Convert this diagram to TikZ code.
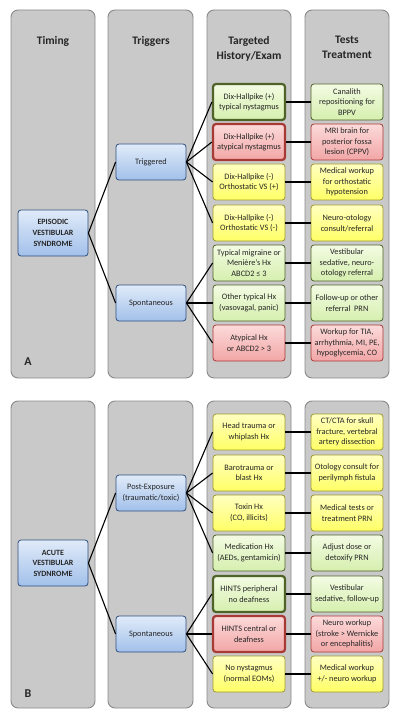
\documentclass[tikz,border=0pt]{standalone}
\usepackage{fontspec}
\setmainfont{Carlito}

\definecolor{panelfill}{HTML}{C9C9C9}
\definecolor{panelline}{HTML}{8A8A8A}
\definecolor{txt}{HTML}{262626}
\definecolor{greentop}{HTML}{F3FBE3}
\definecolor{greenbot}{HTML}{D6EFAE}
\definecolor{greenline}{HTML}{4F6228}
\definecolor{redtop}{HTML}{FCDADA}
\definecolor{redbot}{HTML}{F2A6A6}
\definecolor{redline}{HTML}{A83A36}
\definecolor{yellowtop}{HTML}{FFFFC0}
\definecolor{yellowbot}{HTML}{FFFF66}
\definecolor{yellowline}{HTML}{A09A30}
\definecolor{bluetop}{HTML}{E0EBF9}
\definecolor{bluebot}{HTML}{A2C0EA}
\definecolor{blueline}{HTML}{2F4F7F}

\tikzset{
  panel/.style={draw=panelline, fill=panelfill, line width=0.9pt, rounded corners=7pt},
  header/.style={font=\bfseries\fontsize{11.5}{15}\selectfont, align=center, anchor=north, inner sep=0pt, text=txt},
  card/.style={rounded corners=3pt, minimum width=72pt, minimum height=36pt, inner sep=1pt,
    align=center, text=txt, font=\fontsize{8.3}{10.6}\selectfont, line width=0.8pt},
  greencard/.style={card, draw=greenline, top color=greentop, bottom color=greenbot},
  redcard/.style={card, draw=redline, top color=redtop, bottom color=redbot},
  yellowcard/.style={card, draw=yellowline, top color=yellowtop, bottom color=yellowbot},
  strong/.style={line width=2.2pt},
  trigcard/.style={card, draw=blueline, top color=bluetop, bottom color=bluebot, minimum width=70pt},
  timecard/.style={trigcard, minimum height=46pt, font=\bfseries\fontsize{8}{10.6}\selectfont},
  link/.style={line width=1.1pt, black},
  panelmark/.style={font=\bfseries\fontsize{12}{14}\selectfont, text=txt}
}

\begin{document}
\begin{tikzpicture}[x=1pt, y=-1pt]
  \useasboundingbox (0,0) rectangle (400,719);

  % Серые колонки, часть A
  \draw[panel] (11,10) rectangle (95,378);
  \draw[panel] (108,10) rectangle (193,378);
  \draw[panel] (207,10) rectangle (291,378);
  \draw[panel] (305,10) rectangle (389,378);

  % Серые колонки, часть B
  \draw[panel] (11,401) rectangle (95,708);
  \draw[panel] (108,401) rectangle (193,708);
  \draw[panel] (207,401) rectangle (291,708);
  \draw[panel] (305,401) rectangle (389,708);

  % Заголовки
  \node[header] (hdTiming) at (53,36) {Timing};
  \node[header] (hdTriggers) at (151,36) {Triggers};
  \node[header] (hdHistory) at (249,36) {Targeted\\History/Exam};
  \node[header] (hdTests) at (347,36) {Tests\\Treatment};

  % Часть A
  \node[timecard] (epA) at (53,233) {EPISODIC\\VESTIBULAR\\SYNDROME};
  \node[trigcard] (trigA) at (151,162) {Triggered};
  \node[trigcard] (spontA) at (151,303) {Spontaneous};

  \node[greencard, strong] (hA1) at (249,102) {Dix-Hallpike (+)\\typical nystagmus};
  \node[redcard, strong] (hA2) at (249,142) {Dix-Hallpike (+)\\atypical nystagmus};
  \node[yellowcard] (hA3) at (249,182) {Dix-Hallpike (-)\\Orthostatic VS (+)};
  \node[yellowcard] (hA4) at (249,223) {Dix-Hallpike (-)\\Orthostatic VS (-)};
  \node[greencard] (hA5) at (249,263) {Typical migraine or\\Menière’s Hx\\ABCD2 ≤ 3};
  \node[greencard] (hA6) at (249,303) {Other typical Hx\\(vasovagal, panic)};
  \node[redcard] (hA7) at (249,343) {Atypical Hx\\or ABCD2 > 3};

  \node[greencard] (tA1) at (347,102) {Canalith\\repositioning for\\BPPV};
  \node[redcard] (tA2) at (347,142) {MRI brain for\\posterior fossa\\lesion (CPPV)};
  \node[yellowcard] (tA3) at (347,182) {Medical workup\\for orthostatic\\hypotension};
  \node[yellowcard] (tA4) at (347,223) {Neuro-otology\\consult/referral};
  \node[greencard] (tA5) at (347,263) {Vestibular\\sedative, neuro-\\otology referral};
  \node[greencard] (tA6) at (347,303) {Follow-up or other\\referral~~PRN};
  \node[redcard] (tA7) at (347,343) {Workup for TIA,\\arrhythmia, MI, PE,\\hypoglycemia, CO};

  \node[panelmark] (markA) at (28,362) {A};

  % Часть B
  \node[timecard] (acB) at (53,563) {ACUTE\\VESTIBULAR\\SYDNROME};
  \node[trigcard] (postB) at (151,493) {Post-Exposure\\(traumatic/toxic)};
  \node[trigcard] (spontB) at (151,634) {Spontaneous};

  \node[yellowcard] (hB1) at (249,432) {Head trauma or\\whiplash Hx};
  \node[yellowcard] (hB2) at (249,473) {Barotrauma or\\blast Hx};
  \node[yellowcard] (hB3) at (249,513) {Toxin Hx\\(CO, illicits)};
  \node[greencard] (hB4) at (249,553) {Medication Hx\\(AEDs, gentamicin)};
  \node[greencard, strong] (hB5) at (249,594) {HINTS peripheral\\no deafness};
  \node[redcard, strong] (hB6) at (249,634) {HINTS central or\\deafness};
  \node[yellowcard] (hB7) at (249,674) {No nystagmus\\(normal EOMs)};

  \node[yellowcard] (tB1) at (347,432) {CT/CTA for skull\\fracture, vertebral\\artery dissection};
  \node[yellowcard] (tB2) at (347,473) {Otology consult for\\perilymph fistula};
  \node[yellowcard] (tB3) at (347,513) {Medical tests or\\treatment PRN};
  \node[greencard] (tB4) at (347,553) {Adjust dose or\\detoxify PRN};
  \node[greencard] (tB5) at (347,594) {Vestibular\\sedative, follow-up};
  \node[redcard] (tB6) at (347,634) {Neuro workup\\(stroke > Wernicke\\or encephalitis)};
  \node[yellowcard] (tB7) at (347,674) {Medical workup\\+/- neuro workup};

  \node[panelmark] (markB) at (28,694) {B};

  % Связи, часть A
  \draw[link] (epA.east) -- (trigA.west);
  \draw[link] (epA.east) -- (spontA.west);
  \draw[link] (trigA.east) -- (hA1.west);
  \draw[link] (trigA.east) -- (hA2.west);
  \draw[link] (trigA.east) -- (hA3.west);
  \draw[link] (trigA.east) -- (hA4.west);
  \draw[link] (spontA.east) -- (hA5.west);
  \draw[link] (spontA.east) -- (hA6.west);
  \draw[link] (spontA.east) -- (hA7.west);
  \draw[link] (hA1.east) -- (tA1.west);
  \draw[link] (hA2.east) -- (tA2.west);
  \draw[link] (hA3.east) -- (tA3.west);
  \draw[link] (hA4.east) -- (tA4.west);
  \draw[link] (hA5.east) -- (tA5.west);
  \draw[link] (hA6.east) -- (tA6.west);
  \draw[link] (hA7.east) -- (tA7.west);

  % Связи, часть B
  \draw[link] (acB.east) -- (postB.west);
  \draw[link] (acB.east) -- (spontB.west);
  \draw[link] (postB.east) -- (hB1.west);
  \draw[link] (postB.east) -- (hB2.west);
  \draw[link] (postB.east) -- (hB3.west);
  \draw[link] (postB.east) -- (hB4.west);
  \draw[link] (spontB.east) -- (hB5.west);
  \draw[link] (spontB.east) -- (hB6.west);
  \draw[link] (spontB.east) -- (hB7.west);
  \draw[link] (hB1.east) -- (tB1.west);
  \draw[link] (hB2.east) -- (tB2.west);
  \draw[link] (hB3.east) -- (tB3.west);
  \draw[link] (hB4.east) -- (tB4.west);
  \draw[link] (hB5.east) -- (tB5.west);
  \draw[link] (hB6.east) -- (tB6.west);
  \draw[link] (hB7.east) -- (tB7.west);
\end{tikzpicture}
\end{document}
